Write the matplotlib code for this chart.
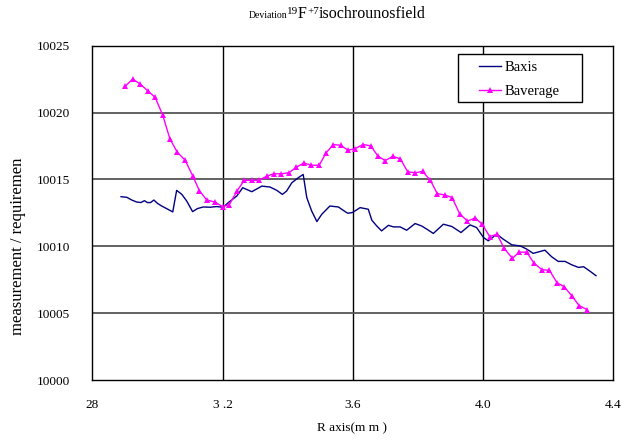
import matplotlib
matplotlib.use("Agg")
import matplotlib.pyplot as plt
from matplotlib.patches import Rectangle

plt.rcParams['font.family'] = ['Liberation Serif', 'DejaVu Serif']

# Baverage (magenta, triangles)
avg_x = [2.900, 2.924, 2.946, 2.970, 2.993, 3.016, 3.038, 3.061, 3.085, 3.108,
         3.129, 3.151, 3.176, 3.200, 3.221, 3.244, 3.267, 3.290, 3.312, 3.336,
         3.358, 3.381, 3.404, 3.427, 3.450, 3.473, 3.497, 3.519, 3.541, 3.563,
         3.586, 3.608, 3.632, 3.656, 3.678, 3.700, 3.724, 3.747, 3.769, 3.792,
         3.815, 3.839, 3.860, 3.884, 3.906, 3.929, 3.953, 3.977, 3.999, 4.021,
         4.044, 4.066, 4.091, 4.112, 4.135, 4.158, 4.182, 4.205, 4.228, 4.251,
         4.273, 4.296, 4.320]
avg_y = [10021.95, 10022.50, 10022.15, 10021.63, 10021.13, 10019.82, 10018.05, 10017.03, 10016.44, 10015.28,
         10014.16, 10013.47, 10013.31, 10012.97, 10013.12, 10014.11, 10014.94, 10014.93, 10014.93, 10015.25,
         10015.42, 10015.42, 10015.50, 10015.91, 10016.23, 10016.06, 10016.06, 10017.01, 10017.61, 10017.55,
         10017.18, 10017.31, 10017.61, 10017.51, 10016.73, 10016.41, 10016.73, 10016.53, 10015.57, 10015.50,
         10015.60, 10014.93, 10013.94, 10013.83, 10013.64, 10012.42, 10011.89, 10012.12, 10011.63, 10010.73,
         10010.90, 10009.84, 10009.10, 10009.56, 10009.56, 10008.72, 10008.25, 10008.20, 10007.28, 10006.96,
         10006.31, 10005.57, 10005.27]

# Baxis (navy line)
axis_x = [2.888, 2.906, 2.921, 2.936, 2.949, 2.960, 2.969, 2.979, 2.989, 3.000,
          3.013, 3.028, 3.047, 3.059, 3.075, 3.090, 3.108, 3.123, 3.141, 3.162,
          3.182, 3.202, 3.218, 3.244, 3.262, 3.290, 3.321, 3.346, 3.367, 3.384,
          3.397, 3.413, 3.433, 3.448, 3.459, 3.474, 3.490, 3.505, 3.530, 3.556,
          3.574, 3.585, 3.599, 3.623, 3.648, 3.659, 3.674, 3.689, 3.710, 3.725,
          3.746, 3.766, 3.792, 3.812, 3.828, 3.848, 3.879, 3.905, 3.933, 3.961,
          3.981, 4.002, 4.017, 4.043, 4.063, 4.089, 4.115, 4.135, 4.155, 4.191,
          4.212, 4.232, 4.253, 4.273, 4.294, 4.310, 4.330, 4.348]
axis_y = [10013.71, 10013.66, 10013.46, 10013.31, 10013.27, 10013.41, 10013.27, 10013.27, 10013.46, 10013.21,
          10013.01, 10012.82, 10012.57, 10014.18, 10013.88, 10013.38, 10012.59, 10012.82, 10012.94, 10012.92,
          10012.97, 10012.92, 10013.27, 10013.76, 10014.38, 10014.08, 10014.50, 10014.43, 10014.18, 10013.88,
          10014.13, 10014.75, 10015.13, 10015.37, 10013.64, 10012.64, 10011.85, 10012.39, 10013.01, 10012.94,
          10012.64, 10012.47, 10012.52, 10012.89, 10012.77, 10011.95, 10011.52, 10011.15, 10011.57, 10011.45,
          10011.45, 10011.20, 10011.70, 10011.52, 10011.28, 10010.96, 10011.65, 10011.48, 10011.03, 10011.60,
          10011.40, 10010.66, 10010.41, 10010.90, 10010.53, 10010.11, 10010.03, 10009.79, 10009.47, 10009.71,
          10009.21, 10008.87, 10008.87, 10008.62, 10008.42, 10008.47, 10008.13, 10007.80]

x_ticks = [2.8, 3.2, 3.6, 4.0, 4.4]
x_tick_labels = ["28", "3 .2", "3.6", "4.0", "4.4"]
y_ticks = [10000, 10005, 10010, 10015, 10020, 10025]
y_tick_labels = ["10000", "10005", "10010", "10015", "10020", "10025"]

fig = plt.figure(figsize=(6.35, 4.41), dpi=100)
ax = fig.add_axes([0.1455, 0.1383, 0.8197, 0.7581])

# grid
for v in x_ticks[1:-1]:
    ax.axvline(v, color='black', lw=1.0, zorder=1)
for h in y_ticks[1:-1]:
    ax.axhline(h, color='#555555', lw=1.3, zorder=1)

ax.plot(axis_x, axis_y, color='#000080', lw=1.0, label='Baxis', zorder=3)
ax.plot(avg_x, avg_y, color='#ff00ff', lw=1.0, marker='^', ms=4.5,
        markeredgewidth=0, label='Baverage', zorder=4)

ax.set_xlim(2.8, 4.4)
ax.set_ylim(10000, 10025)
ax.set_xticks(x_ticks)
ax.set_xticklabels(x_tick_labels, fontsize=9.5)
ax.set_yticks(y_ticks)
ax.set_yticklabels(y_tick_labels, fontsize=9.5)
ax.tick_params(axis='both', length=0)
ax.tick_params(axis='x', pad=14)
ax.tick_params(axis='y', pad=16)
for s in ax.spines.values():
    s.set_color('black')
    s.set_linewidth(1.0)

# legend box drawn separately so the padding can match
ax.add_patch(Rectangle((0.703, 0.831), 0.237, 0.143, transform=ax.transAxes,
                       facecolor='white', edgecolor='black', lw=1.0, zorder=5))
leg = ax.legend(loc='upper left', bbox_to_anchor=(0.743, 0.955), borderaxespad=0,
                frameon=False, fontsize=10.5, handlelength=1.5, handletextpad=0.25,
                borderpad=0, labelspacing=0.72)
leg.set_zorder(6)

fig.text(352 / 635, 1 - 428 / 441, "R axis(m m )", ha='center', va='center', fontsize=9.5)
fig.text(18 / 635, 1 - 246 / 441, "measurement / requiremen", ha='center', va='center',
         rotation=90, fontsize=12)

# title made from pieces of different sizes
pieces = [("Deviation", 7, 0), ("19", 8, 4), ("F", 11.5, 0), ("+7", 8, 4),
          ("isochrounosfield", 11.5, 0)]
fig.canvas.draw()
renderer = fig.canvas.get_renderer()
x0 = 248.3
base = 441 - 18.3
for txt, fs, rise in pieces:
    t = fig.text(x0 / 635, (base + rise) / 441, txt, fontsize=fs, ha='left', va='baseline',
                 transform=fig.transFigure)
    bb = t.get_window_extent(renderer=renderer)
    x0 += bb.width

fig.savefig("out.png", dpi=100)
